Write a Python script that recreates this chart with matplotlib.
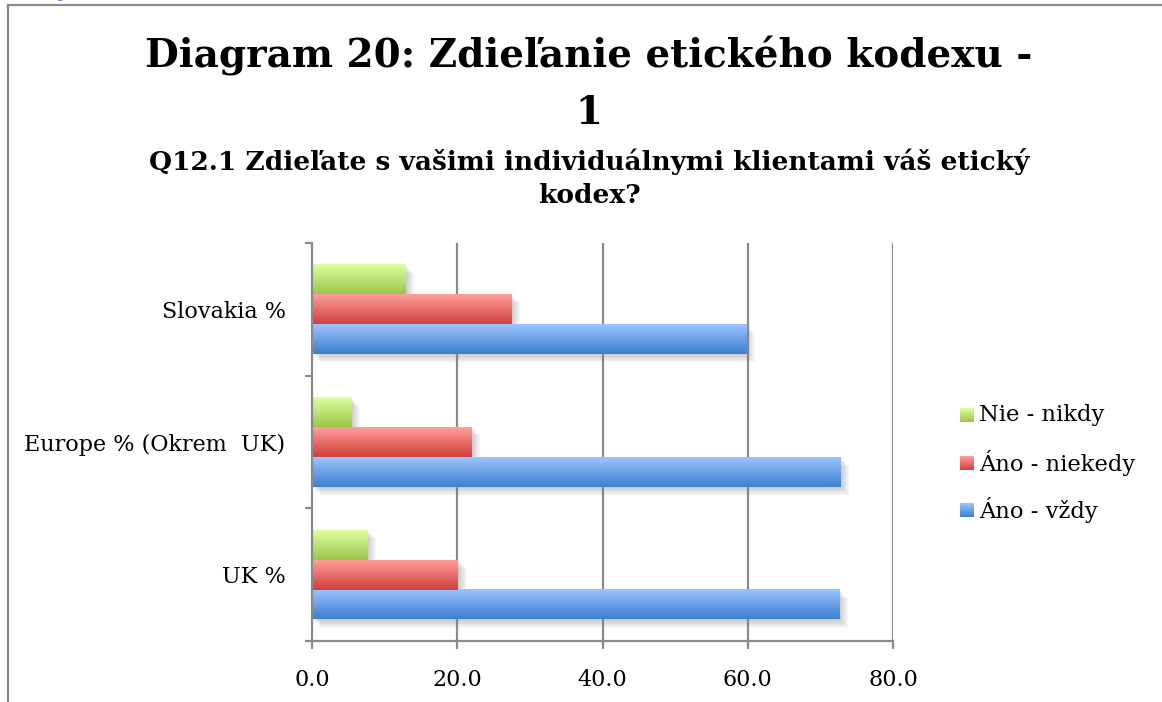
import numpy as np
import matplotlib
matplotlib.use("Agg")
import matplotlib.pyplot as plt
from matplotlib.patches import Rectangle
import matplotlib.patheffects as pe
from matplotlib.colors import to_rgb

categories = ["UK %", "Europe % (Okrem  UK)", "Slovakia %"]
series_names = ["Áno - vždy", "Áno - niekedy", "Nie - nikdy"]
vzdy = [72.6, 72.8, 59.8]
niekedy = [20.1, 22.0, 27.5]
nikdy = [7.6, 5.4, 12.9]
xticks = [0.0, 20.0, 40.0, 60.0, 80.0]
title_lines = ["Diagram 20: Zdieľanie etického kodexu -", "1"]
subtitle_lines = ["Q12.1 Zdieľate s vašimi individuálnymi klientami váš etický", "kodex?"]

series_values = [vzdy, niekedy, nikdy]
grads = [("#3d7fcf", "#9cc3ff"), ("#d1403d", "#ff9e9b"), ("#9bc64a", "#deffa0")]

W, H = 1162, 702
fig = plt.figure(figsize=(W / 100, H / 100), dpi=100)
SERIF = "DejaVu Serif"

def fx(px):
    return px / W

def fy(py):
    return 1 - py / H

ax = fig.add_axes([fx(312), fy(641), fx(893) - fx(312), fy(243) - fy(641)])

def gradient_img(c_bottom, c_top, n=64):
    b = np.array(to_rgb(c_bottom))
    t = np.array(to_rgb(c_top))
    f = np.linspace(0, 1, n)[:, None]
    return (b + (t - b) * f)[:, None, :]

shadow_fx = [pe.SimplePatchShadow(offset=(d, -d), shadow_rgbFace="#7a7a7a", alpha=0.07)
             for d in (1, 2, 3, 4, 5, 6)]

h = 0.225
ypos = np.arange(len(categories))
for si, vals in enumerate(series_values):
    cb, ct = grads[si]
    img = gradient_img(cb, ct)
    for ci, v in enumerate(vals):
        yc = ypos[ci] + (si - 1) * h
        y0, y1 = yc - h / 2, yc + h / 2
        shadow = Rectangle((0, y0), v, h, facecolor="none", edgecolor="none", zorder=2,
                           path_effects=shadow_fx)
        ax.add_patch(shadow)
        ax.imshow(img, extent=[0, v, y0, y1], origin="lower", aspect="auto",
                  interpolation="bilinear", zorder=3)

ax.set_xlim(0, 80)
ax.set_ylim(-0.5, 2.5)
ax.set_aspect("auto")

gc = "#8a8a8a"
for x in xticks[1:]:
    ax.axvline(x, color=gc, lw=1.6, zorder=1)
for s in ["top", "right"]:
    ax.spines[s].set_visible(False)
for s in ["left", "bottom"]:
    ax.spines[s].set_color(gc)
    ax.spines[s].set_linewidth(1.6)
    ax.spines[s].set_zorder(4)

ax.set_xticks(xticks)
ax.set_xticklabels([f"{v:.1f}" for v in xticks], fontsize=16, family=SERIF)
ax.set_yticks(ypos)
ax.set_yticklabels(categories, fontsize=16, family=SERIF)
ax.set_yticks([-0.5, 0.5, 1.5, 2.5], minor=True)
ax.tick_params(axis="y", which="major", length=0, pad=19)
ax.tick_params(axis="y", which="minor", length=5, width=1.6, color=gc)
ax.tick_params(axis="x", which="major", length=6, width=1.6, color=gc, pad=14)

# legend (manual, gradient swatches)
leg_items = [("Nie - nikdy", grads[2], 415), ("Áno - niekedy", grads[1], 463), ("Áno - vždy", grads[0], 510)]
for label, (cb, ct), yc in leg_items:
    sax = fig.add_axes([fx(960), fy(yc + 7), fx(14), 14 / H])
    sax.imshow(gradient_img(cb, ct), origin="lower", aspect="auto", extent=[0, 1, 0, 1])
    sax.set_axis_off()
    fig.text(fx(979), fy(yc), label, fontsize=16.3, family=SERIF, va="center", ha="left")

# titles
fig.text(fx(589), fy(67), title_lines[0], fontsize=28, fontweight="bold", family=SERIF, ha="center", va="baseline")
fig.text(fx(589), fy(124), title_lines[1], fontsize=28, fontweight="bold", family=SERIF, ha="center", va="baseline")
fig.text(fx(589), fy(170), subtitle_lines[0], fontsize=19, fontweight="bold", family=SERIF, ha="center", va="baseline")
fig.text(fx(589), fy(203), subtitle_lines[1], fontsize=19, fontweight="bold", family=SERIF, ha="center", va="baseline")

# outer frame
fig.add_artist(plt.Line2D([fx(8), 1], [fy(5), fy(5)], color=gc, lw=1.6))
fig.add_artist(plt.Line2D([fx(8), fx(8)], [fy(5), 0], color=gc, lw=1.6))
# cropped caption above frame
fig.text(fx(30), fy(-2), "Diagram 20: Zdieľanie etického kodexu - 1", fontsize=11, color="#4f81bd",
         family=SERIF, ha="left", va="baseline")

fig.savefig("out.png", dpi=100)
